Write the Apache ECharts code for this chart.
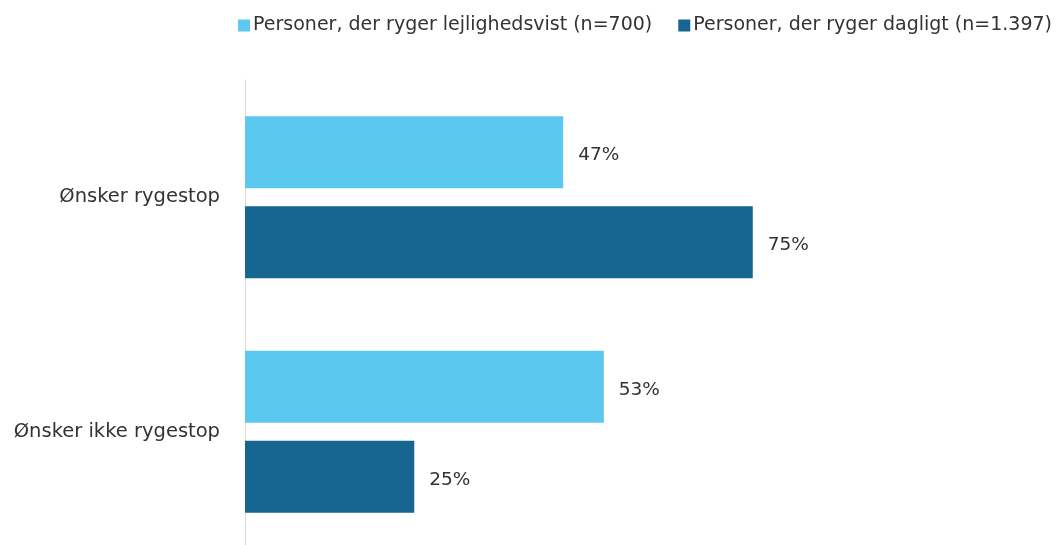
<!DOCTYPE html>
<html><head><meta charset="utf-8">
<script src="https://cdn.jsdelivr.net/npm/echarts@6/dist/echarts.min.js"></script>
<style>html,body{margin:0;padding:0;background:#fff;overflow:hidden}#c{width:1059px;height:560px}</style>
</head><body><div id="c"></div>
<script>
const categories = ['Ønsker rygestop', 'Ønsker ikke rygestop'];
const seriesNames = ['Personer, der ryger lejlighedsvist (n=700)', 'Personer, der ryger dagligt (n=1.397)'];
const occasional = [47, 53];
const daily = [75, 25];
const colors = ['#5BC8F0', '#176591'];
const font = '"DejaVu Sans", "Open Sans", sans-serif';
const chart = echarts.init(document.getElementById('c'));
const mk = (name, data, color) => ({
  name, type: 'bar', data, barWidth: 72, barGap: '25%',
  itemStyle: { color },
  label: { show: true, position: 'right', distance: 15, offset: [0, 3], formatter: '{c}%', color: '#333', fontSize: 18.5, fontFamily: font },
  emphasis: { disabled: true }
});
chart.setOption({
  animation: false,
  textStyle: { fontFamily: font },
  color: colors,
  legend: {
    top: 11, right: 2, itemWidth: 12, itemHeight: 12, itemGap: 26, icon: 'rect',
    textStyle: { fontSize: 19, color: '#333', fontFamily: font, padding: [0, 0, 0, -2] },
    data: seriesNames
  },
  grid: { left: 245, top: 80, width: 677, height: 469, containLabel: false },
  xAxis: { type: 'value', min: 0, max: 100, show: false },
  yAxis: {
    type: 'category', data: categories, inverse: true,
    axisLine: { show: true, lineStyle: { color: '#d9d9d9', width: 1 } },
    axisTick: { show: false },
    axisLabel: { fontSize: 19.5, color: '#333', margin: 25, fontFamily: font }
  },
  series: [mk(seriesNames[0], occasional, colors[0]), mk(seriesNames[1], daily, colors[1])]
});
</script></body></html>
